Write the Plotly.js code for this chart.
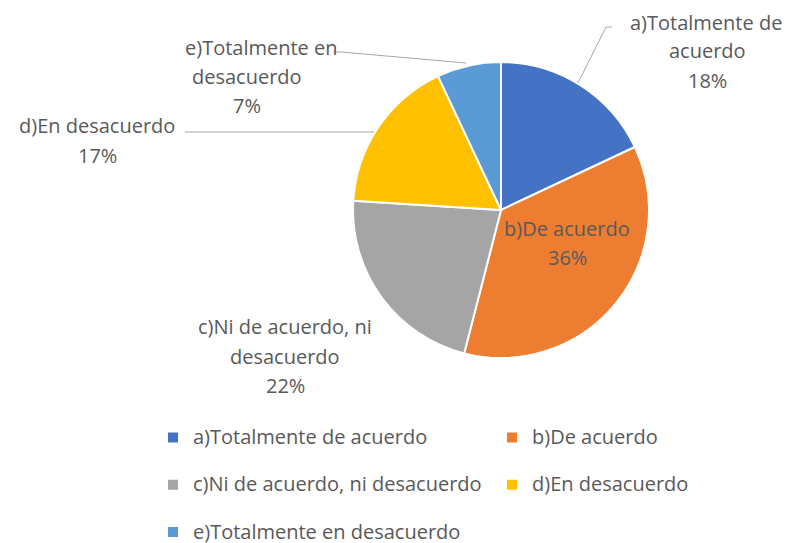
<!DOCTYPE html>
<html>
<head>
<meta charset="utf-8">
<script src="https://cdn.plot.ly/plotly-3.0.1.min.js"></script>
<style>html,body{margin:0;padding:0;background:#fff;}#chart{width:792px;height:543px;}</style>
</head>
<body>
<div id="chart"></div>
<script>
// ---- data ----
const categories = [
  'a)Totalmente de acuerdo',
  'b)De acuerdo',
  'c)Ni de acuerdo, ni desacuerdo',
  'd)En desacuerdo',
  'e)Totalmente en desacuerdo'
];
const values = [18, 36, 22, 17, 7];
const labelLines = [
  ['a)Totalmente de', 'acuerdo'],
  ['b)De acuerdo'],
  ['c)Ni de acuerdo, ni', 'desacuerdo'],
  ['d)En desacuerdo'],
  ['e)Totalmente en', 'desacuerdo']
];
const colors = ['#4472C4', '#ED7D31', '#A5A5A5', '#FFC000', '#5B9BD5'];

// ---- layout helpers (pixel -> paper) ----
const W = 792, H = 543;
const px = x => x / W;
const py = y => 1 - y / H;
const FONT = 'Open Sans, Noto Sans, sans-serif';
const TXT = '#595959';

// label placement (pixels): x per line, y per line
const labelPos = [
  {x: [706, 707, 707], y: [22, 51, 80]},
  {x: [567, 567], y: [229, 257]},
  {x: [285, 285, 285], y: [326, 356, 385]},
  {x: [97, 97], y: [126, 155]},
  {x: [261, 247, 247], y: [47, 77, 105]}
];
const leaders = [
  [[612, 27], [606, 27], [578, 83]],
  null,
  null,
  [[185, 132], [374, 132]],
  [[333, 52], [341, 52], [466, 63]]
];

const total = values.reduce((s, v) => s + v, 0);
const annotations = [];
labelLines.forEach((lines, i) => {
  const all = lines.concat([Math.round(values[i] / total * 100) + '%']);
  all.forEach((t, j) => {
    annotations.push({
      xref: 'paper', yref: 'paper',
      x: px(labelPos[i].x[j]), y: py(labelPos[i].y[j]),
      xanchor: 'center', yanchor: 'middle',
      text: t, showarrow: false,
      font: {family: FONT, size: 20, color: TXT}
    });
  });
});
const shapes = [];
leaders.forEach(l => {
  if (!l) return;
  const d = l.map((p, k) => (k ? 'L' : 'M') + px(p[0]) + ',' + py(p[1])).join(' ');
  shapes.push({type: 'path', xref: 'paper', yref: 'paper', path: d,
    line: {color: '#A6A6A6', width: 1}});
});

const cx = 501, cy = 210, r = 148;
const trace = {
  type: 'pie',
  labels: categories.map(c => '<span style="font-size:20px">' + c + '</span><br> '),
  values: values,
  sort: false,
  direction: 'clockwise',
  rotation: 0,
  textinfo: 'none',
  hoverinfo: 'label+percent',
  marker: {colors: colors, line: {color: '#FFFFFF', width: 2}},
  domain: {x: [px(cx - r), px(cx + r)], y: [py(cy + r), py(cy - r)]}
};

const layout = {
  width: W, height: H,
  margin: {l: 0, r: 0, t: 0, b: 0, pad: 0, autoexpand: false},
  paper_bgcolor: '#FFFFFF',
  showlegend: true,
  legend: {
    orientation: 'h',
    x: px(153), xanchor: 'left',
    y: py(420), yanchor: 'top',
    entrywidth: 294,
    valign: 'top',
    font: {family: FONT, size: 17, color: TXT},
    bgcolor: 'rgba(0,0,0,0)'
  },
  annotations: annotations,
  shapes: shapes
};

Plotly.newPlot('chart', [trace], layout, {displayModeBar: false, staticPlot: true});
</script>
</body>
</html>
